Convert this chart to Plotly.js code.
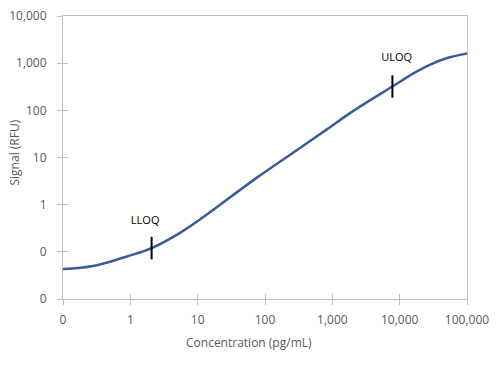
<!DOCTYPE html>
<html><head><meta charset="utf-8">
<script src="https://cdn.plot.ly/plotly-3.0.1.min.js"></script>
<style>html,body{margin:0;padding:0;background:#fff}#c{width:500px;height:368px}</style>
</head><body><div id="c"></div>
<script>
// Curve values
const concentration = [0.1, 0.28, 0.98, 2.07, 5.4, 10.7, 75, 300, 820, 2000, 7800, 15800, 27900, 49400, 100000];
const signal = [0.043, 0.050, 0.083, 0.12, 0.25, 0.48, 3.7, 14.4, 39, 95, 320, 600, 920, 1270, 1600];
// Quantification limits
const limitNames = ["LLOQ", "ULOQ"];
const limitConc = [2.07, 7800];
const limitSignal = [0.12, 320];
const limitLabelConc = [1.66, 9040];
const limitLabelSignal = [0.45, 1242];
// Ticks
const xTickVals = [0.1, 1, 10, 100, 1000, 10000, 100000];
const xTickText = ["0", "1", "10", "100", "1,000", "10,000", "100,000"];
const yTickVals = [0.01, 0.1, 1, 10, 100, 1000, 10000];
const yTickText = ["0", "0", "1", "10", "100", "1,000", "10,000"];

const grey = "#bfbfbf";
const labelGrey = "#595959";
const font = "Open Sans, Noto Sans, sans-serif";

const traces = [
  {x: concentration, y: signal, mode: "lines", line: {color: "#3a5b9b", width: 2.5, shape: "spline", smoothing: 0.9}, hoverinfo: "skip"},
  {x: limitConc, y: limitSignal, mode: "markers", marker: {symbol: "line-ns", size: 16, line: {color: "#000", width: 2}}, hoverinfo: "skip"},
  {x: limitLabelConc, y: limitLabelSignal, mode: "text", text: limitNames, textposition: "middle center", textfont: {family: font, size: 11, color: "#000"}, hoverinfo: "skip"},
  {x: [], y: [], xaxis: "x2", yaxis: "y", hoverinfo: "skip"},
  {x: [], y: [], xaxis: "x", yaxis: "y2", hoverinfo: "skip"}
];

const baseX = {type: "log", range: [-1, 5], tickvals: xTickVals, showgrid: false, zeroline: false, fixedrange: true};
const baseY = {type: "log", range: [-2, 4], tickvals: yTickVals, showgrid: false, zeroline: false, fixedrange: true};

const layout = {
  width: 500, height: 368,
  margin: {l: 63, r: 33, t: 16, b: 69},
  paper_bgcolor: "#fff", plot_bgcolor: "#fff",
  showlegend: false,
  font: {family: font, size: 12, color: labelGrey},
  xaxis: Object.assign({}, baseX, {ticktext: xTickText, showline: true, linecolor: grey, linewidth: 1, mirror: true,
    ticks: "outside", ticklen: 5, tickcolor: grey, tickwidth: 1, ticklabelstandoff: 5,
    tickfont: {family: font, size: 12, color: labelGrey}}),
  yaxis: Object.assign({}, baseY, {ticktext: yTickText, showline: true, linecolor: grey, linewidth: 1, mirror: true,
    ticks: "outside", ticklen: 5, tickcolor: grey, tickwidth: 1, ticklabelstandoff: 8,
    tickfont: {family: font, size: 12, color: labelGrey}}),
  xaxis2: Object.assign({}, baseX, {overlaying: "x", anchor: "y", side: "bottom", ticks: "inside", ticklen: 5, tickcolor: grey, showticklabels: false, showline: false}),
  yaxis2: Object.assign({}, baseY, {overlaying: "y", anchor: "x", side: "left", ticks: "inside", ticklen: 5, tickcolor: grey, showticklabels: false, showline: false}),
  annotations: [
    {text: "Concentration (pg/mL)", xref: "paper", yref: "paper", x: 0.46, y: -0.155, xanchor: "center", yanchor: "middle", showarrow: false, font: {family: font, size: 12, color: labelGrey}},
    {text: "Signal (RFU)", xref: "paper", yref: "paper", x: -0.121, y: 0.518, xanchor: "center", yanchor: "middle", textangle: -90, showarrow: false, font: {family: font, size: 12, color: labelGrey}}
  ]
};

Plotly.newPlot("c", traces, layout, {staticPlot: true, displayModeBar: false});
</script>
</body></html>
